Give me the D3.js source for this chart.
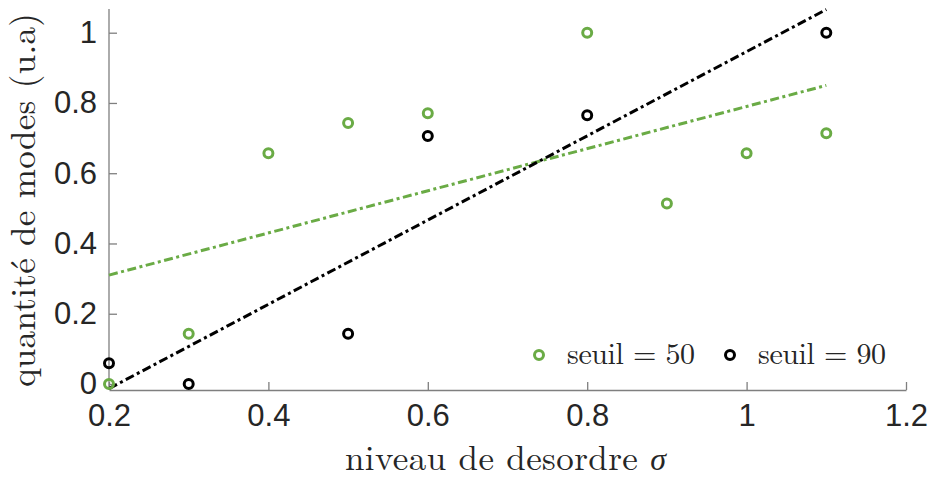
<!DOCTYPE html>
<html><head><meta charset="utf-8">
<script src="https://cdn.jsdelivr.net/npm/d3@7"></script>
<style>body{margin:0;background:#fff}svg{display:block}</style>
</head><body>
<svg id="chart" width="930" height="477"></svg>
<script>
// Data
const sigma50 = [0.2, 0.3, 0.4, 0.5, 0.6, 0.8, 0.9, 1.0, 1.1];
const modes50 = [0.0, 0.143, 0.657, 0.743, 0.771, 1.0, 0.514, 0.657, 0.714];
const sigma90 = [0.2, 0.3, 0.5, 0.6, 0.8, 1.1];
const modes90 = [0.059, 0.0, 0.143, 0.706, 0.765, 1.0];
const fitX = [0.2, 1.1];
const fit50 = [0.310, 0.850];
const fit90 = [-0.013, 1.066];
const xTicks = [0.2, 0.4, 0.6, 0.8, 1, 1.2];
const yTicks = [0, 0.2, 0.4, 0.6, 0.8, 1];
const legendLabels = ["seuil = 50", "seuil = 90"];

const GREEN = "#6aab45", BLACK = "#000000";
const svg = d3.select("#chart");
const x = d3.scaleLinear().domain([0.2, 1.2]).range([109, 906]);
const y = d3.scaleLinear().domain([0, 1]).range([384, 32.7]);
const yBottom = 390, yTop = 9;

const axisColor = "#7f7f7f", textColor = "#262626";
const sans = "'Liberation Sans', Arial, sans-serif";
const serif = "'Latin Modern Roman', 'CMU Serif', 'DejaVu Serif', serif";
// x axis
const gx = svg.append("g").attr("transform", `translate(0,${yBottom})`)
  .call(d3.axisBottom(x).tickValues(xTicks).tickSizeInner(-8).tickSizeOuter(0).tickPadding(14)
    .tickFormat(d => d3.format("")(d)));
gx.select(".domain").attr("stroke", axisColor).attr("stroke-width", 1.3);
gx.selectAll(".tick line").attr("stroke", axisColor).attr("stroke-width", 1.3);
gx.selectAll(".tick text").attr("fill", textColor).attr("font-family", sans)
  .attr("font-size", 31).attr("dy", "0.71em");
// y axis
const gy = svg.append("g").attr("transform", `translate(109,0)`);
gy.call(d3.axisLeft(y).tickValues(yTicks).tickSizeInner(-8).tickSizeOuter(0).tickPadding(12)
  .tickFormat(d => d3.format("")(d)));
gy.select(".domain").attr("d", `M0,${yTop}V${yBottom}`).attr("stroke", axisColor).attr("stroke-width", 1.3);
gy.selectAll(".tick line").attr("stroke", axisColor).attr("stroke-width", 1.3);
gy.selectAll(".tick text").attr("fill", textColor).attr("font-family", sans)
  .attr("font-size", 31);

// fit lines
const line = d3.line().x(d => x(d[0])).y(d => y(d[1]));
svg.append("path").datum(fitX.map((v, i) => [v, fit50[i]])).attr("d", line)
  .attr("fill", "none").attr("stroke", GREEN).attr("stroke-width", 3).attr("stroke-dasharray", "9,3.5,3,3.5");
svg.append("path").datum(fitX.map((v, i) => [v, fit90[i]])).attr("d", line)
  .attr("fill", "none").attr("stroke", BLACK).attr("stroke-width", 3).attr("stroke-dasharray", "9,3.5,3,3.5");

// points
function pts(xs, ys, color) {
  svg.append("g").selectAll("circle").data(xs.map((v, i) => [v, ys[i]])).join("circle")
    .attr("cx", d => x(d[0])).attr("cy", d => y(d[1])).attr("r", 4.5)
    .attr("fill", "none").attr("stroke", color).attr("stroke-width", 3);
}
pts(sigma50, modes50, GREEN);
pts(sigma90, modes90, BLACK);

// legend
const leg = [{c: GREEN, t: legendLabels[0], mx: 539, tx: 567}, {c: BLACK, t: legendLabels[1], mx: 730, tx: 758}];
leg.forEach(l => {
  svg.append("circle").attr("cx", l.mx).attr("cy", 355).attr("r", 4.5).attr("fill", "none")
    .attr("stroke", l.c).attr("stroke-width", 3);
  svg.append("text").attr("x", l.tx).attr("y", 364).text(l.t)
    .attr("font-family", serif).attr("font-size", 30).attr("fill", textColor)
    .attr("textLength", 128).attr("lengthAdjust", "spacing");
});

// axis labels
svg.append("text").attr("x", 345).attr("y", 470)
  .attr("font-family", serif).attr("font-size", 35).attr("fill", textColor)
  .attr("textLength", 321).attr("lengthAdjust", "spacing")
  .html('niveau de desordre <tspan font-style="italic" font-family="\'Liberation Serif\', \'DejaVu Serif\', serif" font-size="32">σ</tspan>');
svg.append("text").attr("transform", "translate(35,387) rotate(-90)")
  .attr("font-family", serif).attr("font-size", 35).attr("fill", textColor)
  .attr("textLength", 374).attr("lengthAdjust", "spacing")
  .text("quantité de modes (u.a)");
</script>
</body></html>
